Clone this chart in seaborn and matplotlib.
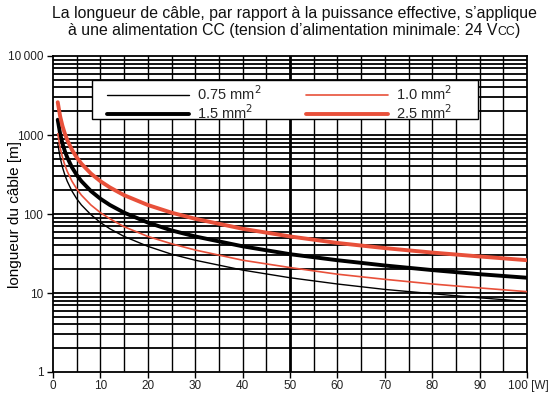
import numpy as np
import pandas as pd
import matplotlib
matplotlib.use("Agg")
import matplotlib.pyplot as plt
import matplotlib.transforms as mtransforms
from matplotlib.patches import Rectangle
import seaborn as sns

# ---- data ----
power_w = [1, 1.5, 2, 2.5, 3, 4, 5, 6, 8, 10, 12, 15, 20, 25, 30, 40, 50, 60, 70, 80, 90, 100]
len_075 = [780, 520, 390, 312, 260, 195, 156, 130, 98, 78, 65, 52, 39, 31, 26, 19.5, 15.6, 13, 11.1, 9.8, 8.7, 7.8]
len_100 = [1040, 690, 520, 416, 347, 260, 208, 173, 130, 104, 87, 69, 52, 42, 35, 26, 21, 17.3, 14.9, 13, 11.6, 10.4]
len_150 = [1560, 1040, 780, 624, 520, 390, 312, 260, 195, 156, 130, 104, 78, 62, 52, 39, 31, 26, 22.3, 19.5, 17.3, 15.6]
len_250 = [2600, 1730, 1300, 1040, 867, 650, 520, 433, 325, 260, 217, 173, 130, 104, 87, 65, 52, 43, 37, 32.5, 29, 26]
series_labels = ["0.75 mm$^2$", "1.5 mm$^2$", "1.0 mm$^2$", "2.5 mm$^2$"]
x_tick_vals = [0, 10, 20, 30, 40, 50, 60, 70, 80, 90, 100]
y_tick_vals = [1, 10, 100, 1000, 10000]
y_tick_labels = ["1", "10", "100", "1000", "10\u2009000"]
title_line1 = "La longueur de câble, par rapport à la puissance effective, s’applique"
title_line2 = ["à une alimentation CC (tension d’alimentation minimale: 24 V", "CC", ")"]
ylabel_text = "longueur du câble [m]"

sns.set_theme(style="white")
plt.rcParams['font.family'] = ['Liberation Sans', 'DejaVu Sans']

W, H = 554, 396
AX_L, AX_R, AX_T, AX_B = 53, 527, 56, 372
RED = "#E8503A"
fig = plt.figure(figsize=(W/100, H/100), dpi=100)
ax = fig.add_axes([AX_L/W, 1-AX_B/H, (AX_R-AX_L)/W, (AX_B-AX_T)/H])

def ax_x(px):
    return (px - AX_L) / (AX_R - AX_L)

def ax_y(py):
    return (AX_B - py) / (AX_B - AX_T)

# grid
for xv in range(5, 100, 5):
    ax.axvline(xv, color="black", lw=2.0 if xv == 50 else 1.0, zorder=1)
for dec in [1, 10, 100, 1000]:
    for m in range(2, 10):
        ax.axhline(dec*m, color="black", lw=1.3, zorder=1)
for yv in [10, 100, 1000]:
    ax.axhline(yv, color="black", lw=1.3, zorder=1)

df = pd.DataFrame({"P": power_w * 4,
                   "L": len_075 + len_150 + len_100 + len_250,
                   "s": sum([[lab]*len(power_w) for lab in series_labels], [])})
styles = {series_labels[0]: ("black", 1.0),
          series_labels[1]: ("black", 2.8),
          series_labels[2]: (RED, 1.2),
          series_labels[3]: (RED, 2.8)}
for lab in series_labels:
    c, lw = styles[lab]
    sub = df[df["s"] == lab]
    sns.lineplot(data=sub, x="P", y="L", color=c, lw=lw, label=lab, ax=ax, zorder=3)

ax.set_yscale("log")
ax.set_xlim(0, 100)
ax.set_ylim(1, 10000)
ax.set_xticks(x_tick_vals)
xl = [str(v) for v in x_tick_vals]
xl[-1] = "100 [W]"
ax.set_xticklabels(xl)
ax.set_yticks(y_tick_vals)
ax.set_yticklabels(y_tick_labels)
ax.yaxis.set_minor_locator(matplotlib.ticker.NullLocator())
ax.set_xlabel("")
ax.set_ylabel(ylabel_text, fontsize=11, color="black")
ax.yaxis.set_label_coords(-31/474, 0.5)
ax.tick_params(axis="both", which="major", direction="out", length=4, width=1,
               color="black", labelsize=8.5, labelcolor="#222222", left=True, bottom=True)
ax.tick_params(axis="x", pad=2)
ax.tick_params(axis="y", pad=3)
lastlab = ax.get_xticklabels()[-1]
lastlab.set_ha("left")
lastlab.set_transform(lastlab.get_transform() + mtransforms.ScaledTranslation(-0.19, 0, fig.dpi_scale_trans))
for sp in ax.spines.values():
    sp.set_color("black")
    sp.set_linewidth(1.3)

# legend: frame drawn separately
frame = Rectangle((ax_x(92), ax_y(119)), ax_x(478) - ax_x(92), ax_y(80) - ax_y(119),
                  transform=ax.transAxes, facecolor="white", edgecolor="black", lw=1.0, zorder=4)
ax.add_patch(frame)
leg = ax.legend(loc="upper left", bbox_to_anchor=(ax_x(107), ax_y(84.5)),
                ncol=2, handlelength=5.6, fontsize=10.5, frameon=False,
                borderpad=0, labelspacing=0.0, handletextpad=0.55, columnspacing=3.1,
                borderaxespad=0)
leg.set_zorder(5)

# title (two lines, with small-caps "CC" after V)
TFS = 11.4
cx = 294
fig.text(cx/W, 1-18/H, title_line1, ha="center", va="baseline", fontsize=TFS, color="#111111")
renderer = fig.canvas.get_renderer()
sizes = [TFS, TFS*0.78, TFS]
parts = [fig.text(0, 1-35/H, s, ha="left", va="baseline", fontsize=fs, color="#111111")
         for s, fs in zip(title_line2, sizes)]
widths = [p.get_window_extent(renderer).width for p in parts]
x0 = cx - sum(widths)/2
for p, w in zip(parts, widths):
    p.set_x(x0/W)
    x0 += w

fig.savefig("out.png", dpi=100)
